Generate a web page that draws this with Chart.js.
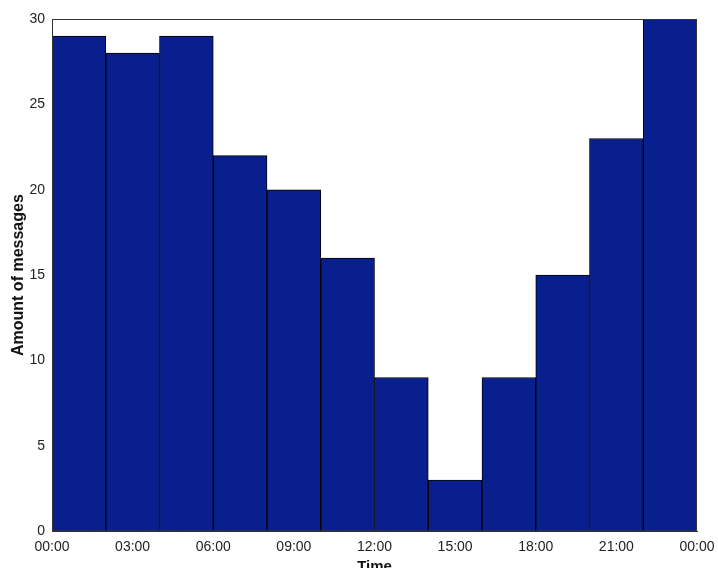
<!DOCTYPE html>
<html>
<head>
<meta charset="utf-8">
<script src="https://cdn.jsdelivr.net/npm/chart.js@4"></script>
<style>
  body { margin: 0; background: #fff; }
  #wrap { width: 718px; height: 568px; }
</style>
</head>
<body>
<div id="wrap"><canvas id="chart" width="718" height="568"></canvas></div>
<script>
// bin centres in hours, each bin is 2 hours wide
var binCenters = [1, 3, 5, 7, 9, 11, 13, 15, 17, 19, 21, 23];
var messageCounts = [29, 28, 29, 22, 20, 16, 9, 3, 9, 15, 23, 30];
var xTickHours = [0, 3, 6, 9, 12, 15, 18, 21, 24];
var yTicks = [0, 5, 10, 15, 20, 25, 30];

var points = binCenters.map(function(h, i) { return { x: h, y: messageCounts[i] }; });

// draws the box round the plot area (top edge, like the original)
var boxPlugin = {
  id: 'box',
  afterDatasetsDraw: function(chart) {
    var a = chart.chartArea, c = chart.ctx;
    c.save();
    c.strokeStyle = '#333';
    c.lineWidth = 1;
    c.strokeRect(a.left + 0.5, a.top + 0.5, a.right - a.left - 1, a.bottom - a.top - 1);
    c.restore();
  }
};

// let tick labels hang over the edges instead of shrinking the plot
function noLabelPadding(axis) {
  axis.paddingLeft = 0;
  axis.paddingRight = 0;
  axis.paddingTop = 0;
  axis.paddingBottom = 0;
}

var ctx = document.getElementById('chart').getContext('2d');
new Chart(ctx, {
  type: 'bar',
  data: {
    datasets: [{
      data: points,
      backgroundColor: '#0a1f8e',
      borderColor: '#000000',
      borderWidth: 1,
      barPercentage: 1,
      categoryPercentage: 1
    }]
  },
  options: {
    responsive: false,
    animation: false,
    layout: { padding: { left: 9, right: 21, top: 19, bottom: -8 } },
    plugins: { legend: { display: false }, tooltip: { enabled: false } },
    scales: {
      x: {
        type: 'linear',
        min: 0,
        max: 24,
        offset: false,
        afterFit: noLabelPadding,
        afterBuildTicks: function(axis) {
          axis.ticks = xTickHours.map(function(v) { return { value: v }; });
        },
        ticks: {
          color: '#222',
          font: { family: 'Liberation Sans', size: 14 },
          maxRotation: 0,
          padding: 8,
          callback: function(v) {
            var h = v % 24;
            return (h < 10 ? '0' : '') + h + ':00';
          }
        },
        grid: { display: false, drawTicks: false },
        border: { color: '#333' },
        title: {
          display: true,
          text: 'Time',
          color: '#111',
          font: { family: 'Liberation Sans', size: 15, weight: 'bold' },
          padding: { top: -6, bottom: 0 }
        }
      },
      y: {
        min: 0,
        max: 30,
        afterFit: function(axis) {
          noLabelPadding(axis);
          axis.width = 43;
        },
        afterBuildTicks: function(axis) {
          axis.ticks = yTicks.map(function(v) { return { value: v }; });
        },
        ticks: {
          color: '#222',
          font: { family: 'Liberation Sans', size: 14 },
          padding: 7
        },
        grid: { display: false, drawTicks: false },
        border: { color: '#333' },
        title: {
          display: true,
          text: 'Amount of messages',
          color: '#111',
          font: { family: 'Liberation Sans', size: 16, weight: 'bold' },
          padding: { top: 0, bottom: 0 }
        }
      }
    }
  },
  plugins: [boxPlugin]
});
</script>
</body>
</html>
